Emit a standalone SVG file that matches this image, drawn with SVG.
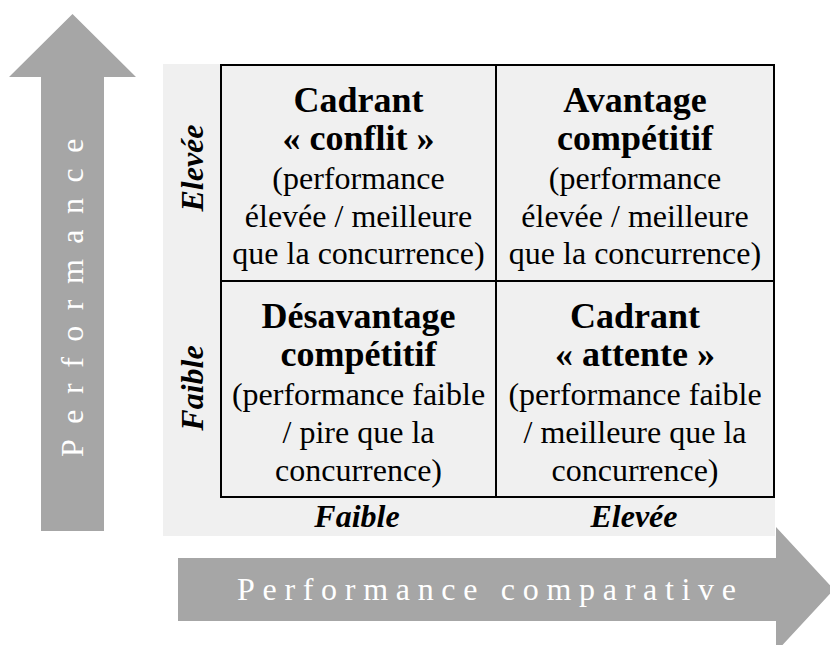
<svg xmlns="http://www.w3.org/2000/svg" width="830" height="645" viewBox="0 0 830 645">
<style>
.arrow{fill:#a6a6a6;}
.atext{font-family:"Liberation Serif","Times New Roman",serif;font-size:32px;fill:#ffffff;}
.grid{fill:none;stroke:#000000;stroke-width:2;}
.head{font-family:"Liberation Serif","Times New Roman",serif;font-size:36px;font-weight:bold;fill:#000000;text-anchor:middle;}
.body{font-family:"Liberation Serif","Times New Roman",serif;font-size:32px;fill:#000000;text-anchor:middle;}
.lab{font-family:"Liberation Serif","Times New Roman",serif;font-size:32px;font-weight:bold;font-style:italic;fill:#000000;text-anchor:middle;}
</style>
<rect width="830" height="645" fill="#ffffff"/>
<g id="axis-y">
<polygon class="arrow" points="72.5,14 136,77 104,77 104,531 41,531 41,77 9,77"/>
<text class="atext" transform="translate(83,457) rotate(-90)" letter-spacing="15.5">Performance</text>
</g>
<g id="axis-x">
<polygon class="arrow" points="178,558 776,558 776,527 834,589.5 776,652 776,621 178,621"/>
<text class="atext" x="237" y="600" letter-spacing="7.7">Performance comparative</text>
</g>
<g id="panel">
<rect x="163" y="64" width="612" height="472" fill="#f0f0f0"/>
</g>
<g id="connectors">
<rect class="grid" x="221" y="65" width="553" height="432"/>
<line class="grid" x1="496" y1="65" x2="496" y2="497"/>
<line class="grid" x1="221" y1="281" x2="774" y2="281"/>
</g>
<g id="cell-conflit">
<text class="head" x="358.5" y="112">Cadrant</text>
<text class="head" x="358.5" y="150">« conflit »</text>
<text class="body" x="358.5" y="189">(performance</text>
<text class="body" x="358.5" y="227">élevée / meilleure</text>
<text class="body" x="358.5" y="264">que la concurrence)</text>
</g>
<g id="cell-avantage">
<text class="head" x="635" y="112">Avantage</text>
<text class="head" x="635" y="150">compétitif</text>
<text class="body" x="635" y="189">(performance</text>
<text class="body" x="635" y="227">élevée / meilleure</text>
<text class="body" x="635" y="264">que la concurrence)</text>
</g>
<g id="cell-desavantage">
<text class="head" x="358.5" y="328">Désavantage</text>
<text class="head" x="358.5" y="366">compétitif</text>
<text class="body" x="358.5" y="405">(performance faible</text>
<text class="body" x="358.5" y="443">/ pire que la</text>
<text class="body" x="358.5" y="481">concurrence)</text>
</g>
<g id="cell-attente">
<text class="head" x="635" y="328">Cadrant</text>
<text class="head" x="635" y="366">« attente »</text>
<text class="body" x="635" y="405">(performance faible</text>
<text class="body" x="635" y="443">/ meilleure que la</text>
<text class="body" x="635" y="481">concurrence)</text>
</g>
<g id="label-row-high">
<text class="lab" transform="translate(203,168) rotate(-90)">Elevée</text>
</g>
<g id="label-row-low">
<text class="lab" transform="translate(203,388) rotate(-90)">Faible</text>
</g>
<g id="label-col-low">
<text class="lab" x="357" y="527">Faible</text>
</g>
<g id="label-col-high">
<text class="lab" x="634" y="527">Elevée</text>
</g>
</svg>
